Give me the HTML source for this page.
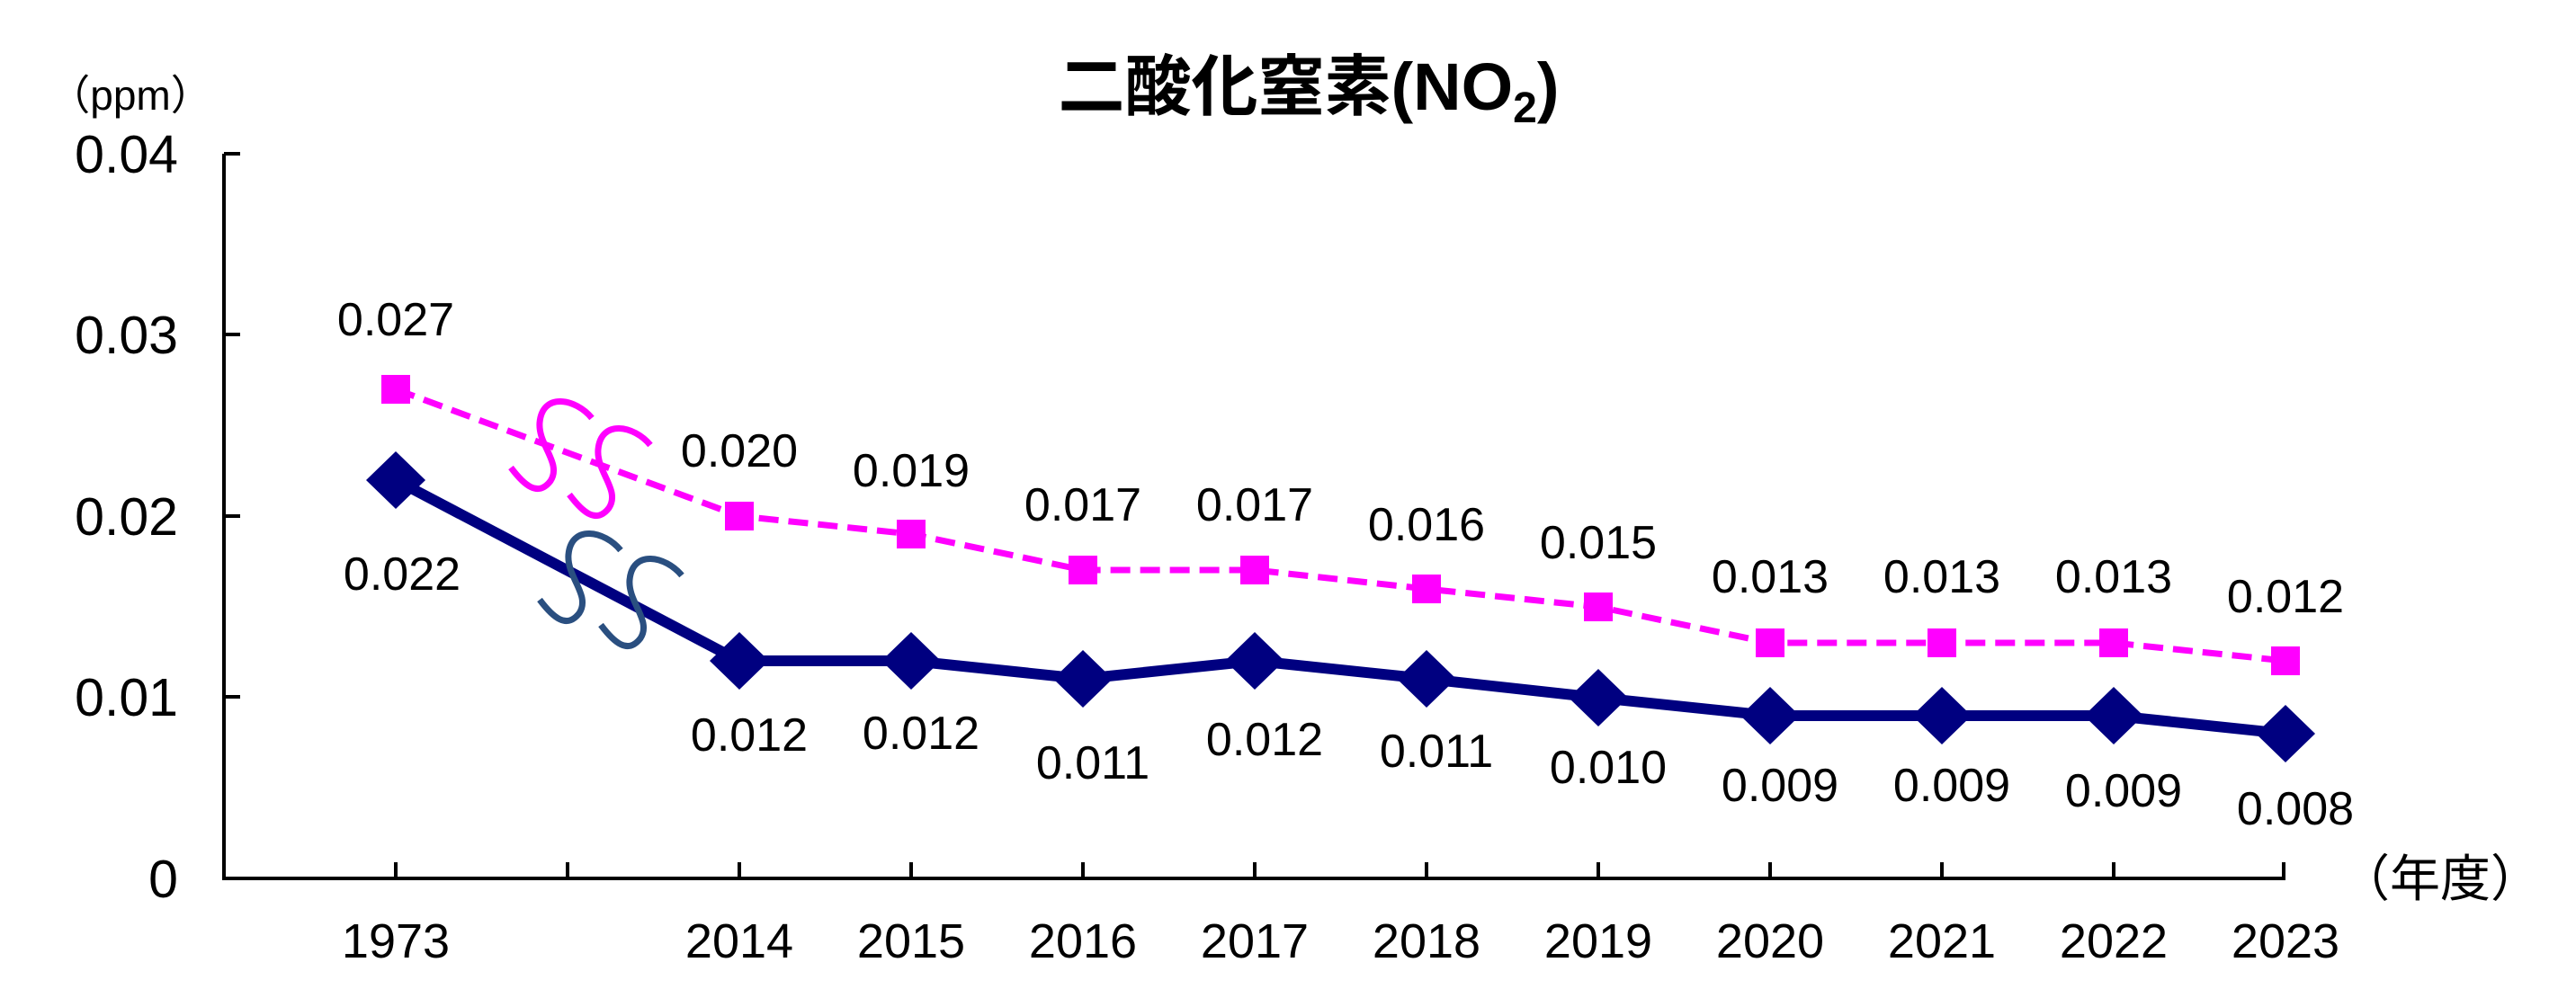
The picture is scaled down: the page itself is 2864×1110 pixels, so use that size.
<!DOCTYPE html>
<html><head><meta charset="utf-8"><style>
html,body{margin:0;padding:0;background:#fff;}
svg{display:block;}
text{font-family:"Liberation Sans","Noto Sans CJK JP",sans-serif;fill:#000;}
</style></head><body>
<svg width="2864" height="1110" viewBox="0 0 2864 1110" xmlns="http://www.w3.org/2000/svg">
<text x="1455" y="122" text-anchor="middle" font-size="74" font-weight="bold">二酸化窒素(NO<tspan font-size="48" dy="14">2</tspan><tspan dy="-14">)</tspan></text>
<text x="145" y="122" text-anchor="middle" font-size="46">（ppm）</text>
<g font-size="59" text-anchor="end">
<text x="198" y="192">0.04</text>
<text x="198" y="393">0.03</text>
<text x="198" y="595">0.02</text>
<text x="198" y="796">0.01</text>
<text x="198" y="998">0</text>
</g>
<g stroke="#000" stroke-width="4" fill="none">
<line x1="249" y1="171" x2="249" y2="979"/>
<line x1="247" y1="977" x2="2541" y2="977"/>
<line x1="249" y1="171" x2="267" y2="171"/>
<line x1="249" y1="372" x2="267" y2="372"/>
<line x1="249" y1="574" x2="267" y2="574"/>
<line x1="249" y1="775" x2="267" y2="775"/>
<line x1="440" y1="977" x2="440" y2="959"/>
<line x1="631" y1="977" x2="631" y2="959"/>
<line x1="822" y1="977" x2="822" y2="959"/>
<line x1="1013" y1="977" x2="1013" y2="959"/>
<line x1="1204" y1="977" x2="1204" y2="959"/>
<line x1="1395" y1="977" x2="1395" y2="959"/>
<line x1="1586" y1="977" x2="1586" y2="959"/>
<line x1="1777" y1="977" x2="1777" y2="959"/>
<line x1="1968" y1="977" x2="1968" y2="959"/>
<line x1="2159" y1="977" x2="2159" y2="959"/>
<line x1="2350" y1="977" x2="2350" y2="959"/>
<line x1="2539" y1="977" x2="2539" y2="959"/>
</g>
<g font-size="54" text-anchor="middle">
<text x="440" y="1065">1973</text>
<text x="822" y="1065">2014</text>
<text x="1013" y="1065">2015</text>
<text x="1204" y="1065">2016</text>
<text x="1395" y="1065">2017</text>
<text x="1586" y="1065">2018</text>
<text x="1777" y="1065">2019</text>
<text x="1968" y="1065">2020</text>
<text x="2159" y="1065">2021</text>
<text x="2350" y="1065">2022</text>
<text x="2541" y="1065">2023</text>
</g>
<text x="2713" y="997" text-anchor="middle" font-size="56">（年度）</text>
<polyline fill="none" stroke="#ff00ff" stroke-width="7" stroke-dasharray="22,11" points="440,433 822,574 1013,594 1204,634 1395,634 1586,655 1777,675 1968,715 2159,715 2350,715 2541,735"/>
<g fill="#ff00ff">
<rect x="424" y="417" width="32" height="32"/>
<rect x="806" y="558" width="32" height="32"/>
<rect x="997" y="578" width="32" height="32"/>
<rect x="1188" y="618" width="32" height="32"/>
<rect x="1379" y="618" width="32" height="32"/>
<rect x="1570" y="639" width="32" height="32"/>
<rect x="1761" y="659" width="32" height="32"/>
<rect x="1952" y="699" width="32" height="32"/>
<rect x="2143" y="699" width="32" height="32"/>
<rect x="2334" y="699" width="32" height="32"/>
<rect x="2525" y="719" width="32" height="32"/>
</g>
<polyline fill="none" stroke="#000080" stroke-width="12" points="440,534 822,735 1013,735 1204,755 1395,735 1586,755 1777,776 1968,796 2159,796 2350,796 2541,816"/>
<g fill="#000080">
<polygon points="440,502 473,534 440,566 407,534"/>
<polygon points="822,703 855,735 822,767 789,735"/>
<polygon points="1013,703 1046,735 1013,767 980,735"/>
<polygon points="1204,723 1237,755 1204,787 1171,755"/>
<polygon points="1395,703 1428,735 1395,767 1362,735"/>
<polygon points="1586,723 1619,755 1586,787 1553,755"/>
<polygon points="1777,744 1810,776 1777,808 1744,776"/>
<polygon points="1968,764 2001,796 1968,828 1935,796"/>
<polygon points="2159,764 2192,796 2159,828 2126,796"/>
<polygon points="2350,764 2383,796 2350,828 2317,796"/>
<polygon points="2541,784 2574,816 2541,848 2508,816"/>
</g>
<g fill="none" stroke-width="7" stroke-linecap="butt">
<path stroke="#ff00ff" d="M658,465 C640,443 603,436 600,470 C598,495 625,515 612,535 C598,553 583,540 568,520"/>
<path stroke="#ff00ff" d="M723,495 C705,473 668,466 665,500 C663,525 690,545 677,565 C663,583 648,570 633,550"/>
<path stroke="#2a4f80" d="M690,612 C672,590 635,583 632,617 C630,642 657,662 644,682 C630,700 615,687 600,667"/>
<path stroke="#2a4f80" d="M758,640 C740,618 703,611 700,645 C698,670 725,690 712,710 C698,728 683,715 668,695"/>
</g>
<g font-size="52" text-anchor="middle">
<text x="440" y="373">0.027</text>
<text x="822" y="519">0.020</text>
<text x="1013" y="541">0.019</text>
<text x="1204" y="579">0.017</text>
<text x="1395" y="579">0.017</text>
<text x="1586" y="601">0.016</text>
<text x="1777" y="621">0.015</text>
<text x="1968" y="659">0.013</text>
<text x="2159" y="659">0.013</text>
<text x="2350" y="659">0.013</text>
<text x="2541" y="681">0.012</text>
<text x="447" y="656">0.022</text>
<text x="833" y="835">0.012</text>
<text x="1024" y="833">0.012</text>
<text x="1215" y="866">0.011</text>
<text x="1406" y="840">0.012</text>
<text x="1597" y="853">0.011</text>
<text x="1788" y="871">0.010</text>
<text x="1979" y="891">0.009</text>
<text x="2170" y="891">0.009</text>
<text x="2361" y="897">0.009</text>
<text x="2552" y="917">0.008</text>
</g>
</svg>
</body></html>
